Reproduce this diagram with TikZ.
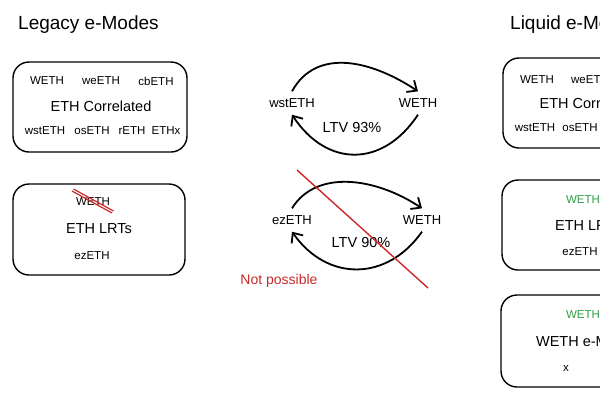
\documentclass[tikz,border=0pt]{standalone}
\usepackage{fontspec}
\setmainfont{Liberation Sans}
\usepackage{tikz}
\usetikzlibrary{arrows.meta}
\definecolor{red}{RGB}{201,42,42}
\definecolor{green}{RGB}{47,158,68}

\begin{document}
\begin{tikzpicture}[x=1pt,y=-1pt,>={Straight Barb[length=8pt,width=14pt]},
 box/.style={draw,line width=1.4pt,rounded corners=16pt,minimum width=174pt,minimum height=90pt},
 tiny/.style={font=\fontsize{11.5}{13}\selectfont},
 big/.style={font=\fontsize{14.5}{16}\selectfont},
 heading/.style={font=\fontsize{19}{22}\selectfont,anchor=west,inner sep=0pt},
 asset/.style={font=\fontsize{13}{15}\selectfont,inner sep=7pt},
 flow/.style={line width=1.8pt,->}]

\useasboundingbox (0,0) rectangle (600,400);
\clip (0,0) rectangle (600,400);

\node[heading] (legacy) at (18,25) {Legacy e-Modes};
\node[heading] (liquid) at (510,25) {Liquid e-Modes};

\node[box] (legcorr) at (100,107) {};
\node[tiny] (lcweth) at (47,81) {WETH};
\node[tiny] (lcweeth) at (101,81) {weETH};
\node[tiny] (lccbeth) at (156,81) {cbETH};
\node[big] (lctitle) at (101,106) {ETH Correlated};
\node[tiny] (lcwst) at (45,131) {wstETH};
\node[tiny] (lcos) at (92,131) {osETH};
\node[tiny] (lcr) at (132,131) {rETH};
\node[tiny] (lcx) at (166,131) {ETHx};

\node[box, minimum width=172pt, minimum height=91pt] (leglrt) at (99,229.5) {};
\node[tiny] (llweth) at (93,202) {WETH};
\node[big] (lltitle) at (99,229) {ETH LRTs};
\node[tiny] (llez) at (92,256) {ezETH};
\draw[red,line width=1.2pt] (72,191) -- (112,213);
\draw[red,line width=1.2pt] (73.5,189) -- (113.5,211);

\node[asset] (wst) at (292,103) {wstETH};
\node[asset] (wethtop) at (418,103) {WETH};
\node[big] (ltvtop) at (352,128) {LTV 93\%};
\draw[flow] (wst.north) .. controls +(25,-45) and +(-45,-30) .. (wethtop.north);
\draw[flow] (wethtop.south) .. controls +(-35,53) and +(35,53) .. (wst.south);

\node[asset] (ez) at (292,220) {ezETH};
\node[asset] (wethlow) at (422,220) {WETH};
\node[big] (ltvlow) at (361,243) {LTV 90\%};
\draw[flow] (ez.north) .. controls +(25,-40) and +(-45,-30) .. (wethlow.north);
\draw[flow] (wethlow.south) .. controls +(-35,50) and +(35,50) .. (ez.south);
\draw[red,line width=1.4pt] (297,170) -- (428,288);
\node[red,font=\fontsize{14}{16}\selectfont] (nope) at (279,281) {Not possible};

\node[box] (liqcorr) at (590,103) {};
\node[tiny] (qcweth) at (537,80) {WETH};
\node[tiny] (qcweeth) at (590,80) {weETH};
\node[tiny] (qccbeth) at (646,80) {cbETH};
\node[big] (qctitle) at (590,103) {ETH Correlated};
\node[tiny] (qcwst) at (535,128) {wstETH};
\node[tiny] (qcos) at (580,128) {osETH};
\node[tiny] (qcr) at (622,128) {rETH};
\node[tiny] (qcx) at (656,128) {ETHx};

\node[box] (liqlrt) at (589,225) {};
\node[tiny,green] (qlweth) at (583,200) {WETH};
\node[big] (qltitle) at (588,226) {ETH LRTs};
\node[tiny] (qlez) at (580,252) {ezETH};

\node[box, minimum height=92pt] (liqweth) at (588,341) {};
\node[tiny,green] (qwweth) at (583,315) {WETH};
\node[big] (qwtitle) at (584,341) {WETH e-Mode};
\node[tiny] (qwx) at (566,368) {x};
\end{tikzpicture}
\end{document}
